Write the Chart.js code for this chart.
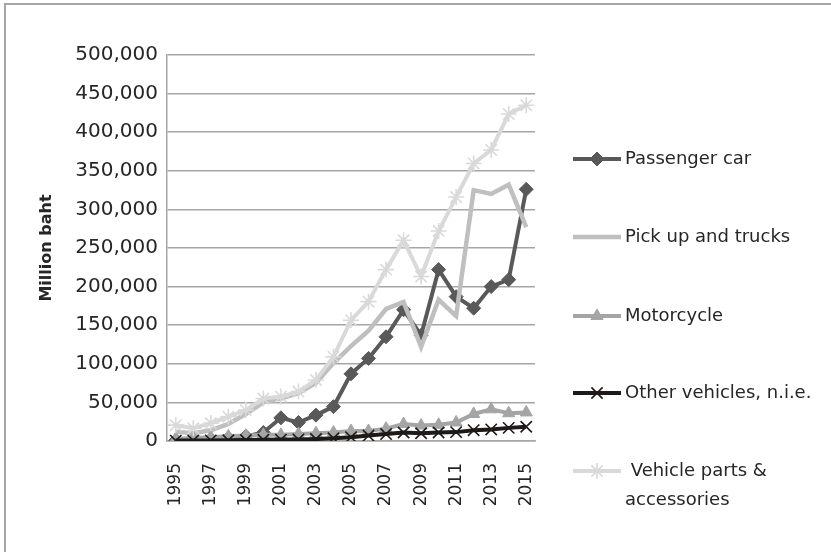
<!DOCTYPE html>
<html>
<head>
<meta charset="utf-8">
<script src="https://cdn.jsdelivr.net/npm/chart.js@4"></script>
<style>
  html, body { margin: 0; padding: 0; background: #fff; }
  #wrap { width: 831px; height: 552px; }
</style>
</head>
<body>
<div id="wrap"><canvas id="MyChart" width="831" height="552"></canvas></div>
<script>
const years = ['1995','1996','1997','1998','1999','2000','2001','2002','2003','2004','2005',
  '2006','2007','2008','2009','2010','2011','2012','2013','2014','2015'];

const passengerCar = [1000, 1500, 2500, 4000, 6000, 11000, 30000, 24000, 33500, 44500, 87000,
  107000, 135000, 170000, 137000, 222000, 187000, 172000, 200000, 209000, 326000];
const pickupTrucks = [12000, 10000, 14000, 22000, 35000, 50000, 55000, 62000, 75000, 101000, 123000,
  143000, 171000, 180000, 122000, 183000, 162000, 325000, 320000, 332000, 277000];
const motorcycle = [3000, 4000, 5000, 6000, 7000, 8000, 8000, 9000, 10000, 11000, 13000,
  13000, 16000, 22000, 20000, 21000, 24000, 35000, 41000, 36000, 37000];
const otherVehicles = [500, 600, 800, 1000, 1200, 1500, 1800, 2000, 2500, 3500, 5000,
  7000, 9000, 11000, 10000, 11000, 11500, 14000, 15000, 17000, 18500];
const vehicleParts = [20500, 16500, 23000, 31500, 40000, 55000, 57500, 64000, 79000, 109000, 156500,
  180500, 222000, 260000, 213000, 272000, 316000, 359500, 377000, 423500, 435000];

const seriesNames = ['Passenger car', 'Pick up and trucks', 'Motorcycle', 'Other vehicles, n.i.e.',
  ['\u00A0Vehicle parts &', 'accessories']];

const gridGrey = '#a6a6a6';
const textCol = '#262626';
const fontFam = '"DejaVu Sans", sans-serif';

function drawMarker(ctx, style, x, y, r, fill, stroke, lw) {
  ctx.save();
  ctx.fillStyle = fill;
  ctx.strokeStyle = stroke;
  ctx.lineWidth = lw;
  ctx.beginPath();
  if (style === 'rectRot') {
    ctx.moveTo(x, y - r); ctx.lineTo(x + r, y); ctx.lineTo(x, y + r); ctx.lineTo(x - r, y);
    ctx.closePath(); ctx.fill(); ctx.stroke();
  } else if (style === 'triangle') {
    ctx.moveTo(x, y - r); ctx.lineTo(x + r * 0.87, y + r * 0.5); ctx.lineTo(x - r * 0.87, y + r * 0.5);
    ctx.closePath(); ctx.fill(); ctx.stroke();
  } else if (style === 'crossRot') {
    const d = r * 0.7;
    ctx.moveTo(x - d, y - d); ctx.lineTo(x + d, y + d);
    ctx.moveTo(x + d, y - d); ctx.lineTo(x - d, y + d);
    ctx.stroke();
  } else if (style === 'star') {
    const d = r * 0.7;
    ctx.moveTo(x - d, y - d); ctx.lineTo(x + d, y + d);
    ctx.moveTo(x + d, y - d); ctx.lineTo(x - d, y + d);
    ctx.moveTo(x, y - r); ctx.lineTo(x, y + r);
    ctx.stroke();
  }
  ctx.restore();
}

const sideLegend = {
  id: 'sideLegend',
  beforeDraw(chart) {
    const ctx = chart.ctx;
    ctx.save();
    ctx.strokeStyle = gridGrey;
    ctx.lineWidth = 2;
    ctx.beginPath();
    ctx.moveTo(5, 552); ctx.lineTo(5, 4); ctx.lineTo(831, 4);
    ctx.stroke();
    ctx.restore();
  },
  afterDraw(chart) {
    const ctx = chart.ctx;
    const rows = [159, 237, 316, 393, 471];
    ctx.save();
    chart.data.datasets.forEach((ds, i) => {
      const y = rows[i];
      ctx.strokeStyle = ds.borderColor;
      ctx.lineWidth = ds.borderWidth;
      ctx.beginPath();
      ctx.moveTo(573, y); ctx.lineTo(621, y);
      ctx.stroke();
      if (ds.pointRadius > 0) {
        drawMarker(ctx, ds.pointStyle, 597, y, ds.pointRadius, ds.pointBackgroundColor,
          ds.pointBorderColor, ds.pointBorderWidth);
      }
      ctx.fillStyle = textCol;
      ctx.font = '18px ' + fontFam;
      ctx.textBaseline = 'middle';
      ctx.textAlign = 'left';
      const lines = Array.isArray(ds.label) ? ds.label : [ds.label];
      lines.forEach((t, k) => ctx.fillText(t, 625, y + k * 29));
    });
    ctx.restore();
  }
};

function makeSet(i, values, color, width, style, radius, fill, stroke, pw) {
  return {
    label: seriesNames[i],
    data: values,
    borderColor: color,
    backgroundColor: color,
    borderWidth: width,
    pointStyle: style,
    pointRadius: radius,
    pointHoverRadius: radius,
    pointBackgroundColor: fill,
    pointBorderColor: stroke,
    pointBorderWidth: pw,
    tension: 0,
    order: 5 - i
  };
}

const data = {
  labels: years,
  datasets: [
    makeSet(0, passengerCar, '#595959', 4, 'rectRot', 7, '#595959', '#595959', 1),
    makeSet(1, pickupTrucks, '#bfbfbf', 4.5, 'circle', 0, '#bfbfbf', '#bfbfbf', 0),
    makeSet(2, motorcycle, '#a5a5a5', 4, 'triangle', 7, '#a5a5a5', '#a5a5a5', 1),
    makeSet(3, otherVehicles, '#1e1a18', 4, 'crossRot', 8, '#1e1a18', '#1e1a18', 1.6),
    makeSet(4, vehicleParts, '#d9d9d9', 4, 'star', 8, '#d9d9d9', '#d9d9d9', 1.6)
  ]
};

const config = {
  type: 'line',
  data: data,
  options: {
    responsive: false,
    animation: false,
    layout: { padding: { left: 33, top: 55, right: 296, bottom: 0 } },
    plugins: {
      legend: { display: false },
      tooltip: { enabled: false }
    },
    scales: {
      x: {
        offset: true,
        grid: { display: false, drawTicks: false },
        border: { color: gridGrey, width: 1.5 },
        ticks: {
          autoSkip: false,
          minRotation: 90,
          maxRotation: 90,
          padding: 22,
          color: textCol,
          font: { family: fontFam, size: 17 },
          callback: (v, i) => (i % 2 === 0 ? years[i] : '')
        },
        afterFit: (s) => { s.height = 111; }
      },
      y: {
        min: 0,
        max: 500000,
        grid: { color: gridGrey, lineWidth: 1.5, drawTicks: false },
        border: { color: gridGrey, width: 1.5 },
        ticks: {
          stepSize: 50000,
          padding: 9,
          color: textCol,
          font: { family: fontFam, size: 20 },
          callback: (v) => v.toLocaleString('en-US')
        },
        title: {
          display: true,
          text: 'Million baht',
          color: textCol,
          padding: { top: 4, bottom: 0 },
          font: { family: fontFam, size: 16, weight: 'bold' }
        },
        afterFit: (s) => { s.width = 134; }
      }
    }
  },
  plugins: [sideLegend]
};

const myChart = new Chart(document.getElementById('MyChart'), config);
</script>
</body>
</html>
